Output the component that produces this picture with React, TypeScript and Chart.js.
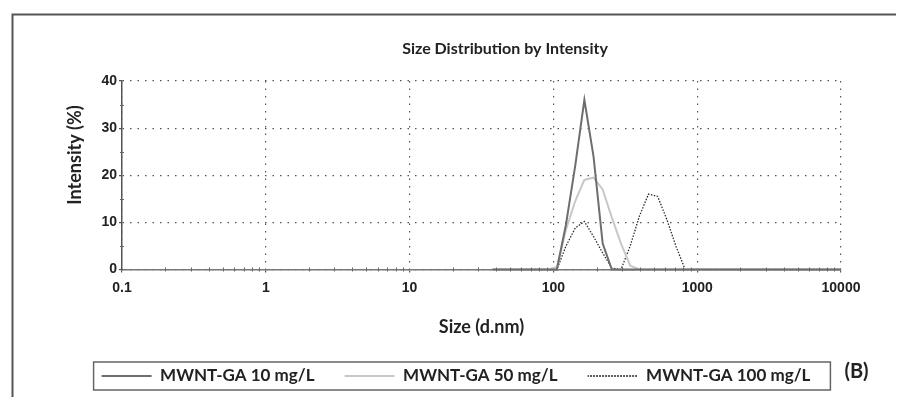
import React, { useEffect, useRef } from "react";
import { Chart, registerables } from "chart.js";

Chart.register(...registerables);

// Size bins (d.nm)
const SIZES = [
  37.84, 43.82, 50.75, 58.77, 68.06, 78.82, 91.28, 105.7, 122.4, 141.8,
  164.2, 190.1, 220.2, 255.0, 295.3, 342.0, 396.1, 458.7, 531.2, 615.1,
  712.4, 825.0, 955.4, 1106, 1281, 1484, 1718, 1990, 2305, 2669,
  3091, 3580, 4145, 4801, 5560, 6439, 7456, 8635, 10000,
];

// Intensity (%) per bin
const INT_10 = [
  0, 0, 0, 0, 0, 0, 0, 0, 9.6, 22,
  36, 24, 5.5, 0, 0, 0, 0, 0, 0, 0,
  0, 0, 0, 0, 0, 0, 0, 0, 0, 0,
  0, 0, 0, 0, 0, 0, 0, 0, 0,
];
const INT_50 = [
  0, 0, 0, 0, 0, 0, 0, 0.5, 8.5, 14.5,
  19, 19.5, 17, 11, 5.5, 0.8, 0, 0, 0, 0,
  0, 0, 0, 0, 0, 0, 0, 0, 0, 0,
  0, 0, 0, 0, 0, 0, 0, 0, 0,
];
const INT_100 = [
  0, 0, 0, 0, 0, 0, 0, 0, 5, 8.8,
  10.2, 7, 3.5, 0.3, 0, 5, 11.3, 16, 15.5, 10.6,
  4.9, 0, 0, 0, 0, 0, 0, 0, 0, 0,
  0, 0, 0, 0, 0, 0, 0, 0, 0,
];

const SERIES_LABELS = ["MWNT-GA 10 mg/L", "MWNT-GA 50 mg/L", "MWNT-GA 100 mg/L"];
const X_TICKS = [0.1, 1, 10, 100, 1000, 10000];
const X_TICK_LABELS = ["0.1", "1", "10", "100", "1000", "10000"];
const X_MINOR_MULT = [2, 3, 4, 5, 6, 7, 8, 9];
const Y_MINOR = [5, 15, 25, 35];
const TITLE = "Size Distribution by Intensity";
const X_TITLE = "Size (d.nm)";
const Y_TITLE = "Intensity (%)";
const PANEL_LABEL = "(B)";

const W = 896;
const H = 389;
const TEXT_FONT = "Lato, 'Open Sans', sans-serif";
const TICK_FONT = "'Liberation Sans', Arial, sans-serif";

const framePlugin = {
  id: "frame",
  beforeDraw(chart: any) {
    const ctx = chart.ctx;
    ctx.save();
    ctx.strokeStyle = "#555";
    ctx.lineWidth = 2;
    ctx.beginPath();
    ctx.moveTo(4.5, H);
    ctx.lineTo(4.5, 6.5);
    ctx.lineTo(W + 2, 6.5);
    ctx.stroke();
    ctx.restore();
  },
  afterDraw(chart: any) {
    const ctx = chart.ctx;
    const xs = chart.scales.x;
    const ys = chart.scales.y;
    const area = chart.chartArea;
    ctx.save();
    // chart title
    ctx.fillStyle = "#222";
    ctx.font = "bold 16px " + TEXT_FONT;
    ctx.textAlign = "center";
    ctx.textBaseline = "middle";
    ctx.fillText(TITLE, 497, 41);
    // y axis title
    ctx.save();
    ctx.translate(67, 147);
    ctx.rotate(-Math.PI / 2);
    ctx.font = "bold 18px " + TEXT_FONT;
    ctx.fillText(Y_TITLE, 0, 0);
    ctx.restore();
    // minor ticks on x axis
    ctx.strokeStyle = "#666";
    ctx.lineWidth = 1;
    const y0 = ys.getPixelForValue(0);
    for (let i = 0; i < X_TICKS.length - 1; i++) {
      for (const m of X_MINOR_MULT) {
        const px = Math.round(xs.getPixelForValue(X_TICKS[i] * m)) + 0.5;
        ctx.beginPath();
        ctx.moveTo(px, y0 - 2);
        ctx.lineTo(px, y0 + 2);
        ctx.stroke();
      }
    }
    // minor ticks on y axis
    const x0 = area.left;
    for (const v of Y_MINOR) {
      const py = Math.round(ys.getPixelForValue(v)) + 0.5;
      ctx.beginPath();
      ctx.moveTo(x0 - 2, py);
      ctx.lineTo(x0 + 2, py);
      ctx.stroke();
    }
    // legend frame
    const lg = chart.legend;
    if (lg && lg.legendHitBoxes && lg.legendHitBoxes.length) {
      const hb = lg.legendHitBoxes;
      const first = hb[0];
      const last = hb[hb.length - 1];
      const cy = first.top + first.height / 2;
      const left = first.left - 8;
      const right = last.left + last.width + 20;
      ctx.strokeStyle = "#666";
      ctx.lineWidth = 1.5;
      ctx.strokeRect(left, cy - 14, right - left, 28);
      ctx.fillStyle = "#222";
      ctx.font = "bold 20px " + TEXT_FONT;
      ctx.textBaseline = "middle";
      ctx.textAlign = "left";
      ctx.fillText(PANEL_LABEL, right + 14, cy - 4);
    }
    ctx.restore();
  },
};

export default function App() {
  const ref = useRef<HTMLCanvasElement>(null);
  useEffect(() => {
    if (!ref.current) return;
    const mk = (ys: number[]) => SIZES.map((s, i) => ({ x: s, y: ys[i] }));
    const chart = new Chart(ref.current, {
      type: "line",
      data: {
        datasets: [
          {
            label: SERIES_LABELS[0],
            data: mk(INT_10),
            borderColor: "#6e6e6e",
            backgroundColor: "transparent",
            borderWidth: 2,
            pointRadius: 0,
            tension: 0,
            clip: 4,
          },
          {
            label: SERIES_LABELS[1],
            data: mk(INT_50),
            borderColor: "#c8c8c8",
            backgroundColor: "transparent",
            borderWidth: 2,
            pointRadius: 0,
            tension: 0,
            clip: 4,
          },
          {
            label: SERIES_LABELS[2],
            data: mk(INT_100),
            borderColor: "#2a2a2a",
            backgroundColor: "transparent",
            borderWidth: 1.3,
            borderDash: [1.5, 1.5],
            pointRadius: 0,
            tension: 0,
            clip: 4,
          },
        ],
      },
      options: {
        animation: false,
        responsive: false,
        maintainAspectRatio: false,
        layout: { padding: { left: 0, right: 0, top: 73, bottom: 2.5 } },
        plugins: {
          title: { display: false },
          legend: {
            display: true,
            position: "bottom",
            labels: {
              boxWidth: 50,
              boxHeight: 0,
              padding: 30,
              color: "#222",
              font: { family: TEXT_FONT, size: 17, weight: "bold" },
            },
          },
          tooltip: { enabled: false },
        },
        scales: {
          x: {
            type: "logarithmic",
            min: 0.1,
            max: 10000,
            afterBuildTicks: (s: any) => {
              s.ticks = X_TICKS.map((v) => ({ value: v }));
            },
            afterFit: (s: any) => {
              s.height = 68;
            },
            ticks: {
              autoSkip: false,
              maxRotation: 0,
              padding: 7,
              color: "#222",
              font: { family: TICK_FONT, size: 14, weight: "bold" },
              callback: (_v: any, i: number) => X_TICK_LABELS[i],
            },
            grid: {
              color: "#555",
              lineWidth: 1.2,
              tickLength: 3,
              tickColor: "#555",
            },
            border: { display: true, color: "#777", width: 1.5, dash: [1.5, 6] },
            title: {
              display: true,
              text: X_TITLE,
              color: "#222",
              font: { family: TEXT_FONT, size: 18, weight: "bold" },
              padding: { top: 0, bottom: 0 },
            },
          },
          y: {
            type: "linear",
            min: 0,
            max: 40,
            afterFit: (s: any) => {
              s.width = 114;
            },
            ticks: {
              stepSize: 10,
              padding: 2,
              color: "#222",
              font: { family: TICK_FONT, size: 14, weight: "bold" },
            },
            grid: {
              color: "#555",
              lineWidth: 1.2,
              tickLength: 3,
              tickColor: "#555",
            },
            border: { display: true, color: "#555", width: 1.5, dash: [1.5, 6] },
            title: { display: false },
          },
          yr: {
            type: "linear",
            position: "right",
            display: true,
            min: 0,
            max: 40,
            afterFit: (s: any) => {
              s.width = 63;
            },
            ticks: { display: false },
            grid: { display: false, drawTicks: false },
            border: { display: false },
          },
        },
      },
      plugins: [framePlugin],
    } as any);
    return () => chart.destroy();
  }, []);
  return (
    <div style={{ width: W, height: H }}>
      <canvas ref={ref} width={W} height={H} style={{ display: "block" }} />
    </div>
  );
}
